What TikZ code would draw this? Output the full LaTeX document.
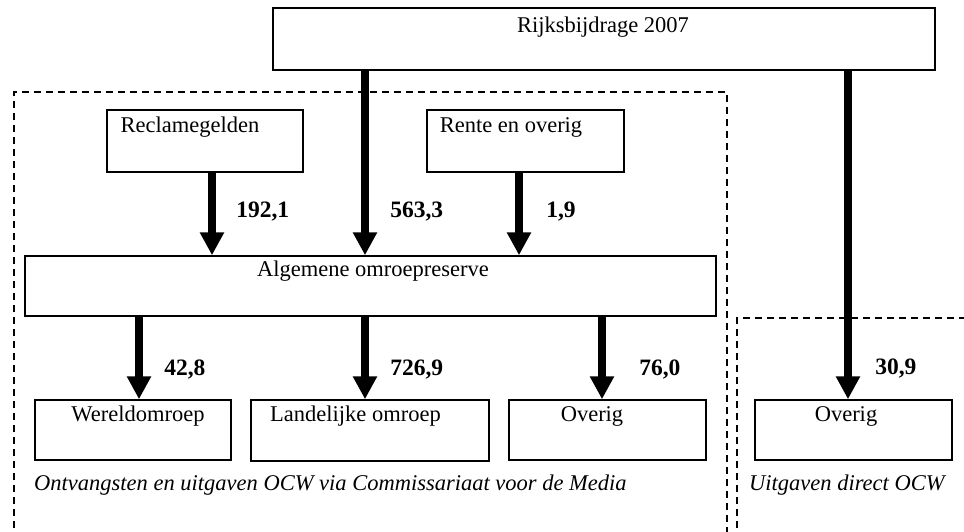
\documentclass[tikz,border=0pt]{standalone}
\usepackage{fontspec}
\setmainfont{Liberation Serif}
\usetikzlibrary{arrows.meta}
\begin{document}
\begin{tikzpicture}[x=1pt,y=-1pt,
  box/.style={draw, line width=1.5pt, rectangle, inner sep=0pt},
  boxlbl/.style={anchor=base, inner sep=0pt, font=\fontsize{22.5}{26}\selectfont},
  flow/.style={line width=8.5pt, -{Triangle[width=23pt,length=23pt]}},
  num/.style={anchor=base west, inner sep=0pt, font=\fontsize{23.5}{27}\selectfont\bfseries},
  frame/.style={dash pattern=on 7pt off 5pt, line width=1.5pt},
  caption/.style={anchor=base west, inner sep=0pt, font=\fontsize{22.5}{26}\selectfont\itshape}]
\useasboundingbox (0,0) rectangle (964,531);

% dashed frames
\draw[frame] (14,540) -- (14,92) -- (727,92) -- (727,540);
\draw[frame] (737,540) -- (737,318) -- (970,318);

% boxes
\node[box, minimum width=662pt, minimum height=62pt,
  label={[boxlbl, yshift=-25pt, xshift=-1pt]north:Rijksbijdrage 2007}] (rijks) at (604,39) {};
\node[box, minimum width=196pt, minimum height=62pt,
  label={[boxlbl, yshift=-23pt, xshift=-15pt]north:Reclamegelden}] (recl) at (205,141) {};
\node[box, minimum width=197pt, minimum height=62pt,
  label={[boxlbl, yshift=-23pt, xshift=-14.5pt]north:Rente en overig}] (rente) at (525.5,141) {};
\node[box, minimum width=691pt, minimum height=60pt,
  label={[boxlbl, yshift=-21pt, xshift=2.5pt]north:Algemene omroepreserve}] (alg) at (370.5,286) {};
\node[box, minimum width=196pt, minimum height=60pt,
  label={[boxlbl, yshift=-22pt, xshift=5pt]north:Wereldomroep}] (wereld) at (133,430) {};
\node[box, minimum width=238pt, minimum height=61pt,
  label={[boxlbl, yshift=-22pt, xshift=-14.5pt]north:Landelijke omroep}] (land) at (370,430.5) {};
\node[box, minimum width=197pt, minimum height=60pt,
  label={[boxlbl, yshift=-22pt, xshift=-15.5pt]north:Overig}] (ovA) at (607.5,430) {};
\node[box, minimum width=197pt, minimum height=60pt,
  label={[boxlbl, yshift=-22pt, xshift=-7.5pt]north:Overig}] (ovB) at (853.5,430) {};

% arrow x positions
\coordinate (xRecl) at (212,0);
\coordinate (xRijk) at (365,0);
\coordinate (xRente) at (519,0);
\coordinate (xDirect) at (848,0);
\coordinate (xWereld) at (139,0);
\coordinate (xOvA) at (602,0);

% connectors
\draw[flow] (recl.south -| xRecl) -- node[num, pos=0.548, xshift=20pt] (n1) {192,1} (alg.north -| xRecl);
\draw[flow] (rijks.south -| xRijk) -- node[num, pos=0.796, xshift=21pt] (n2) {563,3} (alg.north -| xRijk);
\draw[flow] (rente.south -| xRente) -- node[num, pos=0.548, xshift=23pt] (n3) {1,9} (alg.north -| xRente);
\draw[flow] (rijks.south -| xDirect) -- node[num, pos=0.924, xshift=23pt] (n4) {30,9} (ovB.north -| xDirect);
\draw[flow] (alg.south -| xWereld) -- node[num, pos=0.706, xshift=21pt] (n5) {42,8} (wereld.north -| xWereld);
\draw[flow] (alg.south -| xRijk) -- node[num, pos=0.706, xshift=21pt] (n6) {726,9} (land.north -| xRijk);
\draw[flow] (alg.south -| xOvA) -- node[num, pos=0.706, xshift=33pt] (n7) {76,0} (ovA.north -| xOvA);

% captions
\node[caption] (cap1) at (34,490) {Ontvangsten en uitgaven OCW via Commissariaat voor de Media};
\node[caption] (cap2) at (749,490) {Uitgaven direct OCW};
\end{tikzpicture}
\end{document}
